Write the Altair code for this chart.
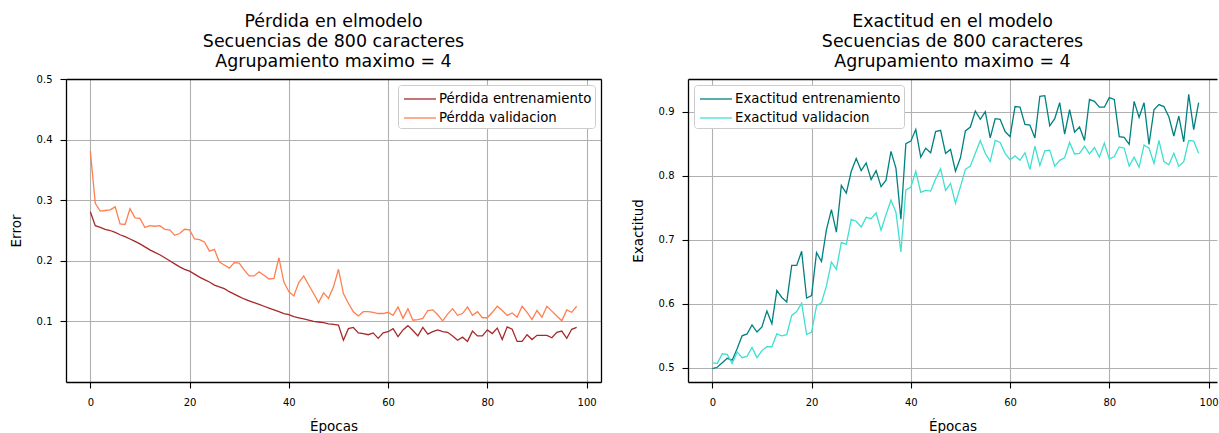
import altair as alt
import pandas as pd

epochs = list(range(99))

loss_train = [0.281, 0.258, 0.255, 0.252, 0.250, 0.247, 0.243, 0.240, 0.236, 0.232,
              0.228, 0.223, 0.218, 0.214, 0.210, 0.205, 0.200, 0.195, 0.190, 0.186,
              0.183, 0.178, 0.173, 0.169, 0.165, 0.160, 0.157, 0.154, 0.149, 0.145,
              0.141, 0.137, 0.134, 0.131, 0.128, 0.125, 0.122, 0.119, 0.116, 0.113,
              0.111, 0.108, 0.106, 0.104, 0.102, 0.100, 0.099, 0.098, 0.096, 0.095,
              0.094, 0.069, 0.088, 0.090, 0.081, 0.080, 0.078, 0.081, 0.072, 0.081,
              0.083, 0.088, 0.075, 0.086, 0.093, 0.085, 0.076, 0.090, 0.079, 0.083,
              0.086, 0.083, 0.082, 0.076, 0.069, 0.074, 0.067, 0.084, 0.076, 0.076,
              0.086, 0.080, 0.089, 0.070, 0.091, 0.087, 0.067, 0.067, 0.078, 0.070,
              0.077, 0.077, 0.077, 0.073, 0.082, 0.084, 0.072, 0.087, 0.090]

loss_val = [0.381, 0.295, 0.282, 0.283, 0.284, 0.289, 0.261, 0.260, 0.286, 0.271,
            0.270, 0.255, 0.258, 0.257, 0.258, 0.252, 0.251, 0.242, 0.245, 0.252,
            0.251, 0.236, 0.235, 0.231, 0.216, 0.219, 0.198, 0.193, 0.188, 0.197,
            0.196, 0.185, 0.175, 0.175, 0.182, 0.176, 0.170, 0.171, 0.205, 0.165,
            0.149, 0.142, 0.164, 0.175, 0.160, 0.146, 0.131, 0.147, 0.138, 0.157,
            0.186, 0.146, 0.130, 0.116, 0.109, 0.116, 0.116, 0.115, 0.113, 0.113,
            0.115, 0.110, 0.124, 0.105, 0.121, 0.102, 0.103, 0.105, 0.118, 0.119,
            0.111, 0.101, 0.112, 0.121, 0.110, 0.113, 0.124, 0.110, 0.116, 0.106,
            0.106, 0.115, 0.125, 0.118, 0.110, 0.114, 0.107, 0.125, 0.115, 0.103,
            0.118, 0.107, 0.125, 0.117, 0.109, 0.101, 0.119, 0.115, 0.125]

acc_train = [0.499, 0.501, 0.508, 0.515, 0.512, 0.530, 0.550, 0.553, 0.567, 0.556,
             0.564, 0.589, 0.569, 0.621, 0.610, 0.603, 0.660, 0.660, 0.682, 0.609,
             0.613, 0.680, 0.666, 0.716, 0.747, 0.712, 0.785, 0.773, 0.807, 0.827,
             0.808, 0.820, 0.794, 0.808, 0.783, 0.793, 0.838, 0.812, 0.732, 0.850,
             0.854, 0.872, 0.829, 0.843, 0.836, 0.869, 0.871, 0.835, 0.841, 0.807,
             0.828, 0.870, 0.876, 0.901, 0.888, 0.900, 0.859, 0.889, 0.888, 0.869,
             0.861, 0.908, 0.907, 0.880, 0.879, 0.859, 0.924, 0.925, 0.878, 0.889,
             0.914, 0.865, 0.903, 0.868, 0.876, 0.855, 0.919, 0.916, 0.907, 0.907,
             0.922, 0.919, 0.861, 0.860, 0.849, 0.916, 0.891, 0.914, 0.849, 0.903,
             0.911, 0.908, 0.892, 0.862, 0.893, 0.853, 0.927, 0.872, 0.914]

acc_val = [0.508, 0.507, 0.522, 0.521, 0.507, 0.525, 0.516, 0.518, 0.532, 0.516,
           0.527, 0.533, 0.533, 0.553, 0.550, 0.552, 0.582, 0.588, 0.601, 0.552,
           0.556, 0.597, 0.602, 0.628, 0.665, 0.654, 0.696, 0.693, 0.732, 0.729,
           0.720, 0.735, 0.733, 0.742, 0.715, 0.739, 0.762, 0.743, 0.681, 0.778,
           0.782, 0.807, 0.774, 0.777, 0.776, 0.795, 0.811, 0.777, 0.788, 0.757,
           0.783, 0.810, 0.815, 0.835, 0.855, 0.835, 0.822, 0.855, 0.852, 0.835,
           0.825, 0.831, 0.824, 0.836, 0.810, 0.846, 0.816, 0.839, 0.840, 0.815,
           0.824, 0.828, 0.852, 0.834, 0.835, 0.846, 0.834, 0.844, 0.829, 0.851,
           0.826, 0.830, 0.845, 0.843, 0.815, 0.829, 0.813, 0.848, 0.843, 0.819,
           0.855, 0.822, 0.817, 0.835, 0.815, 0.822, 0.855, 0.854, 0.835]

loss_labels = ["Pérdida entrenamiento", "Pérdda validacion"]
acc_labels = ["Exactitud entrenamiento", "Exactitud validacion"]
loss_colors = ["#a52a2a", "#ff7f50"]
acc_colors = ["#008080", "#40e0d0"]

loss_title = ["Pérdida en elmodelo", "Secuencias de 800 caracteres", "Agrupamiento maximo = 4"]
acc_title = ["Exactitud en el modelo", "Secuencias de 800  caracteres", "Agrupamiento maximo = 4"]

x_ticks = [0, 20, 40, 60, 80, 100]
loss_ticks = [0.1, 0.2, 0.3, 0.4, 0.5]
acc_ticks = [0.5, 0.6, 0.7, 0.8, 0.9]

loss_xdomain = [-4.9, 102.9]
acc_xdomain = [-4.9, 101.7]
loss_ydomain = [0.0, 0.5]
acc_ydomain = [0.478, 0.951]

FONT = "DejaVu Sans"
GRID = "#b0b0b0"


def long_df(a, b, labels):
    return pd.DataFrame({
        "epoch": epochs + epochs,
        "value": a + b,
        "serie": [labels[0]] * len(a) + [labels[1]] * len(b),
    })


def axis(values, title, fmt, label_pad, title_pad):
    return alt.Axis(values=values, title=title, format=fmt, grid=True,
                    gridColor=GRID, gridWidth=1.1, gridOpacity=1,
                    domain=True, domainColor="black", domainWidth=1.3,
                    tickColor="black", tickSize=6, tickWidth=1.1,
                    labelPadding=label_pad, labelFontSize=10, labelFont=FONT,
                    labelColor="black",
                    titleFontSize=13.5, titleFont=FONT, titleFontWeight="normal",
                    titleColor="black", titlePadding=title_pad)


def frame_axis(orient):
    return alt.Axis(orient=orient, labels=False, ticks=False, grid=False, title=None,
                    domain=True, domainColor="black", domainWidth=1.3)


def panel(a, b, labels, colors, title, ytitle, ydomain, yticks, xdomain, w, h,
          legend_orient, right_border, title_offset):
    df = long_df(a, b, labels)
    xscale = alt.Scale(domain=xdomain, nice=False, zero=False)
    yscale = alt.Scale(domain=ydomain, nice=False, zero=False)
    lines = alt.Chart(df).mark_line(strokeWidth=1.3).encode(
        x=alt.X("epoch:Q", scale=xscale, axis=axis(x_ticks, "Épocas", "d", 9, 12)),
        y=alt.Y("value:Q", scale=yscale, axis=axis(yticks, ytitle, ".1f", 8, 13)),
        color=alt.Color("serie:N", sort=labels,
                        scale=alt.Scale(domain=labels, range=colors),
                        legend=alt.Legend(title=None, orient=legend_orient, offset=6,
                                          fillColor="white", strokeColor="#cccccc",
                                          cornerRadius=3, padding=3,
                                          symbolType="M-1.6,0H1.6", symbolSize=400,
                                          symbolOffset=8,
                                          symbolStrokeWidth=1.3, labelFontSize=13.3,
                                          labelFont=FONT, labelColor="black",
                                          labelLimit=400,
                                          labelOffset=8, rowPadding=1)),
    )
    frame_enc = {"x": alt.X("epoch:Q", scale=xscale, axis=frame_axis("top"))}
    if right_border:
        frame_enc["y"] = alt.Y("value:Q", scale=yscale, axis=frame_axis("right"))
    frame = alt.Chart(df).mark_point(opacity=0).encode(**frame_enc)
    resolve = {"x": "independent"}
    if right_border:
        resolve["y"] = "independent"
    return alt.layer(lines, frame).resolve_axis(**resolve).properties(
        width=w, height=h,
        title=alt.TitleParams(text=title, fontSize=17.4, font=FONT, fontWeight="normal",
                              anchor="middle", frame="group", offset=title_offset,
                              lineHeight=20, color="black"),
    )


left = panel(loss_train, loss_val, loss_labels, loss_colors, loss_title, "Error",
             loss_ydomain, loss_ticks, loss_xdomain, 535, 303, "top-right", True, 4)
right = panel(acc_train, acc_val, acc_labels, acc_colors, acc_title, "Exactitud",
              acc_ydomain, acc_ticks, acc_xdomain, 529, 303, "top-left", False, 9)

chart = alt.hconcat(left, right, spacing=30).resolve_scale(color="independent").properties(
    padding={"left": 9, "top": 12, "right": 0, "bottom": 0},
    background="white",
).configure_view(stroke=None)

chart.save("out.html", embed_options={"renderer": "svg", "actions": False})
